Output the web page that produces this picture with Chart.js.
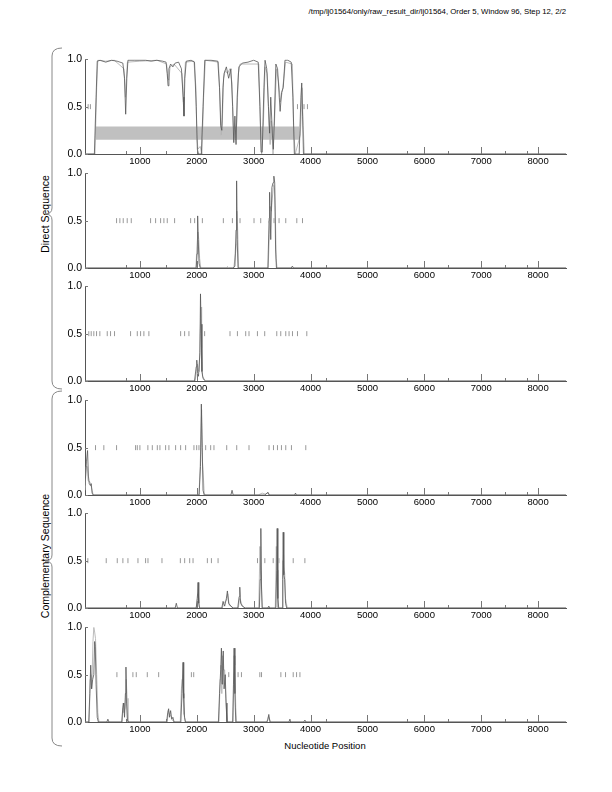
<!DOCTYPE html>
<html>
<head>
<meta charset="utf-8">
<script src="https://cdn.jsdelivr.net/npm/chart.js@4.4.1/dist/chart.umd.min.js"></script>
<style>
  body { margin: 0; background: #fff; width: 612px; height: 792px; position: relative; overflow: hidden;
         font-family: "Liberation Sans", Arial, sans-serif; color: #000; }
  canvas { position: absolute; left: 0; }
  .txt { position: absolute; white-space: nowrap; font-size: 9px; }
  .ylab { position: absolute; white-space: nowrap; font-size: 10.5px; transform: translate(-50%, -50%) rotate(-90deg); }
  svg { position: absolute; left: 0; top: 0; }
</style>
</head>
<body>
<div class="txt" id="title" style="right:46px; top:7px; font-size:7.8px;">/tmp/lj01564/only/raw_result_dir/lj01564, Order 5, Window 96, Step 12, 2/2</div>
<div class="ylab" style="left:45px; top:214px;">Direct Sequence</div>
<div class="ylab" style="left:45px; top:556px;">Complementary Sequence</div>
<div class="txt" style="left:325px; top:740px; transform:translateX(-50%); font-size:9.5px;">Nucleotide Position</div>
<svg width="612" height="792">
  <path d="M62 48 Q52 48 52 56 L52 208 Q52 214 45 214 Q52 214 52 220 L52 381 Q52 389 62 389" fill="none" stroke="#888" stroke-width="1"/>
  <path d="M62 391 Q52 391 52 399 L52 555 Q52 561 45 561 Q52 561 52 567 L52 738 Q52 746 62 746" fill="none" stroke="#888" stroke-width="1"/>
</svg>

<script>
// x range and tick positions (nucleotide)
const xMin = 35, xMax = 8490;
const xMajor = [1000, 2000, 3000, 4000, 5000, 6000, 7000, 8000];
const xMinor = [750, 1460, 4280, 5690, 6410, 7420, 7810];
const yTicks = [0, 0.5, 1];

// grey bar in first panel
const bandStart = 220, bandEnd = 3800, bandLow = 0.15, bandHigh = 0.29;

// panel 1 (direct, frame 1)
const p1Dark = [[35,0],[200,0],[230,0.6],[250,0.98],[300,0.99],[400,0.97],[500,0.99],[600,0.98],[700,0.96],[730,0.8],[750,0.42],[770,0.8],[790,0.99],[900,0.99],[1000,0.99],[1100,0.99],[1200,0.98],[1300,0.99],[1400,0.98],[1460,0.97],[1480,0.85],[1495,0.72],[1510,0.9],[1540,0.95],[1580,0.92],[1620,0.96],[1680,0.97],[1730,0.9],[1760,0.6],[1775,0.4],[1790,0.8],[1815,0.98],[1900,0.99],[1960,0.97],[1990,0.5],[2010,0.05],[2030,0],[2080,0],[2110,0.5],[2140,0.99],[2250,0.99],[2370,0.98],[2400,0.7],[2420,0.3],[2440,0.25],[2460,0.7],[2480,0.85],[2520,0.92],[2560,0.8],[2600,0.9],[2630,0.5],[2650,0.12],[2670,0.4],[2690,0.1],[2710,0.6],[2740,0.92],[2800,0.96],[2900,0.97],[3000,0.99],[3080,0.97],[3110,0.5],[3130,0.02],[3150,0.02],[3180,0.7],[3200,0.99],[3230,0.9],[3260,0.5],[3280,0.22],[3300,0.6],[3330,0.2],[3345,0.05],[3360,0.3],[3390,0.95],[3420,0.9],[3450,0.6],[3465,0.45],[3490,0.65],[3520,0.7],[3550,0.99],[3600,0.99],[3660,0.97],[3690,0.6],[3715,0],[3800,0],[3830,0.6],[3845,0.75],[3860,0.4],[3875,0],[8490,0]];
const p1Grey = [[35,0],[210,0],[240,0.7],[260,0.99],[400,0.98],[550,0.99],[720,0.9],[745,0.6],[760,0.75],[780,0.97],[1000,0.98],[1300,0.99],[1470,0.95],[1490,0.8],[1510,0.78],[1530,0.92],[1600,0.95],[1740,0.85],[1765,0.55],[1780,0.75],[1800,0.97],[1950,0.98],[1985,0.7],[2000,0.2],[2020,0.05],[2060,0.08],[2090,0],[2120,0.6],[2150,0.99],[2380,0.97],[2410,0.55],[2430,0.2],[2450,0.35],[2470,0.8],[2500,0.88],[2540,0.85],[2580,0.9],[2620,0.75],[2640,0.3],[2660,0.2],[2680,0.15],[2700,0.3],[2730,0.85],[2760,0.95],[3090,0.95],[3120,0.3],[3140,0],[3170,0.3],[3200,0.92],[3240,0.85],[3270,0.3],[3290,0.1],[3310,0.35],[3340,0],[3370,0.4],[3400,0.9],[3440,0.75],[3470,0.55],[3500,0.65],[3530,0.8],[3560,0.97],[3680,0.95],[3700,0.3],[3730,0],[3820,0.2],[3850,0.7],[3870,0.3],[3890,0],[8490,0]];
const p1Marks = [90, 130, 3770, 3885, 3945];

// panel 2 (direct, frame 2)
const p2Dark = [[35,0],[1990,0],[2005,0.15],[2015,0.55],[2025,0.3],[2040,0.05],[2060,0],[2520,0],[2537,0.01],[2555,0],[2640,0],[2670,0.02],[2690,0.4],[2700,0.92],[2710,0.3],[2725,0],[3250,0],[3270,0.5],[3280,0.8],[3300,0.3],[3320,0.85],[3340,0.9],[3355,0.97],[3370,0.9],[3385,0.2],[3400,0],[3660,0],[3680,0.02],[3700,0],[8490,0]];
const p2Grey = [[35,0],[1985,0],[2000,0.2],[2020,0.38],[2035,0.3],[2050,0.1],[2070,0],[2650,0],[2680,0.15],[2695,0.25],[2705,0.6],[2720,0.38],[2735,0],[3255,0],[3275,0.35],[3290,0.65],[3310,0.6],[3330,0.75],[3350,0.88],[3365,0.85],[3380,0.6],[3395,0.1],[3410,0],[8490,0]];
const p2Marks = [590, 648, 707, 777, 848, 1188, 1276, 1364, 1422, 1481, 1610, 1892, 1962, 2098, 2467, 2626, 2760, 3006, 3124, 3270, 3358, 3446, 3564, 3758, 3858];

// panel 3 (direct, frame 3)
const p3Dark = [[35,0],[1960,0],[1990,0.15],[2000,0.22],[2015,0.08],[2030,0.05],[2055,0.3],[2065,0.92],[2075,0.6],[2090,0.1],[2110,0.03],[2130,0.01],[2150,0],[8490,0]];
const p3Grey = [[35,0],[1970,0],[1995,0.1],[2010,0.18],[2025,0.12],[2045,0.1],[2060,0.5],[2075,0.78],[2085,0.35],[2100,0.05],[2130,0.02],[2160,0],[8490,0]];
const p3Marks = [102, 144, 190, 238, 296, 426, 484, 554, 836, 954, 1012, 1070, 1158, 1716, 1786, 1862, 2138, 2584, 2714, 2860, 2918, 3066, 3194, 3406, 3476, 3564, 3622, 3682, 3770, 3934];

// panel 4 (complementary, frame 1)
const p4Dark = [[35,0.1],[60,0.35],[80,0.47],[95,0.2],[110,0.12],[130,0.1],[145,0.12],[160,0.02],[180,0],[2040,0],[2065,0.3],[2080,0.96],[2095,0.5],[2110,0.05],[2130,0],[2600,0],[2620,0.05],[2640,0],[3200,0],[3250,0.03],[3270,0],[3720,0],[3735,0.02],[3750,0],[8490,0]];
const p4Grey = [[35,0.05],[55,0.3],[75,0.3],[90,0.15],[120,0.14],[140,0.1],[160,0.05],[180,0],[2040,0],[2070,0.5],[2085,0.9],[2100,0.35],[2115,0.2],[2130,0.02],[2150,0],[3080,0],[3150,0.02],[3200,0.01],[3260,0.02],[3280,0],[8490,0]];
const p4Marks = [220, 366, 590, 924, 954, 1000, 1140, 1218, 1306, 1352, 1452, 1510, 1628, 1716, 1804, 1950, 1998, 2038, 2156, 2244, 2302, 2526, 2702, 2918, 3270, 3348, 3418, 3488, 3564, 3664, 3916];

// panel 5 (complementary, frame 2)
const p5Dark = [[35,0],[1620,0],[1640,0.05],[1660,0],[1990,0],[2010,0.1],[2022,0.27],[2035,0.05],[2050,0],[2440,0],[2462,0.07],[2490,0.02],[2520,0.1],[2538,0.18],[2560,0.05],[2600,0.02],[2640,0],[2720,0],[2745,0.12],[2756,0.22],[2770,0.05],[2800,0.02],[2850,0],[3100,0],[3115,0.3],[3126,0.84],[3138,0.2],[3150,0],[3250,0],[3266,0.02],[3280,0],[3390,0],[3405,0.4],[3413,0.84],[3425,0.1],[3440,0],[3500,0],[3510,0.3],[3519,0.8],[3530,0.35],[3545,0.3],[3560,0.05],[3580,0],[8490,0]];
const p5Grey = [[35,0],[1990,0],[2015,0.15],[2030,0.12],[2045,0],[2450,0],[2470,0.05],[2520,0.08],[2545,0.15],[2570,0.03],[2640,0],[2730,0],[2750,0.1],[2770,0.08],[2800,0.02],[2850,0],[3090,0],[3110,0.65],[3122,0.4],[3135,0.3],[3150,0],[3380,0],[3398,0.65],[3410,0.4],[3425,0],[3500,0],[3515,0.5],[3530,0.4],[3545,0.37],[3560,0.1],[3590,0],[8490,0]];
const p5Marks = [85, 408, 602, 701, 790, 966, 1100, 1142, 1388, 1711, 1787, 1875, 1934, 2186, 2257, 2374, 3067, 3196, 3343, 3443, 3695, 3900];

// panel 6 (complementary, frame 3)
const p6Dark = [[35,0],[100,0],[120,0.3],[135,0.6],[150,0.35],[170,0.45],[190,0.5],[205,0.85],[215,0.8],[230,0.4],[250,0.05],[270,0],[420,0],[437,0.03],[455,0],[680,0],[700,0.15],[715,0.2],[730,0.05],[745,0.3],[755,0.58],[765,0.2],[780,0.02],[800,0],[1470,0],[1490,0.1],[1505,0.14],[1520,0.05],[1540,0.12],[1560,0.03],[1580,0.05],[1600,0],[1720,0],[1740,0.3],[1758,0.63],[1770,0.25],[1785,0.05],[1800,0],[2380,0],[2400,0.3],[2420,0.55],[2433,0.78],[2445,0.4],[2455,0.6],[2465,0.75],[2480,0.35],[2500,0.5],[2515,0.2],[2530,0],[2630,0],[2645,0.4],[2656,0.78],[2670,0.3],[2685,0],[3230,0],[3250,0.03],[3266,0.08],[3285,0],[3620,0],[3637,0.03],[3650,0],[3880,0],[3900,0.02],[3920,0],[8490,0]];
const p6Grey = [[35,0],[110,0],[125,0.45],[140,0.5],[155,0.35],[175,0.85],[190,1.0],[205,0.95],[220,0.88],[240,0.5],[260,0.1],[280,0],[690,0],[705,0.2],[720,0.1],[740,0.15],[760,0.45],[775,0.25],[790,0],[1480,0],[1500,0.12],[1520,0.08],[1545,0.06],[1570,0.02],[1600,0],[1710,0],[1730,0.35],[1745,0.45],[1760,0.3],[1775,0.08],[1800,0],[2390,0],[2410,0.45],[2425,0.6],[2440,0.3],[2455,0.7],[2470,0.55],[2490,0.55],[2510,0.25],[2525,0.1],[2540,0],[2640,0],[2655,0.7],[2670,0.6],[2685,0.15],[2700,0],[3240,0],[3260,0.06],[3280,0.03],[3300,0],[8490,0]];
const p6Marks = [596, 877, 936, 1130, 1330, 1905, 1946, 2562, 2726, 2785, 3108, 3138, 3478, 3560, 3695, 3754, 3813];

const panels = [
  { top: 55,  dark: p1Dark, grey: p1Grey, marks: p1Marks, band: true },
  { top: 169, dark: p2Dark, grey: p2Grey, marks: p2Marks },
  { top: 282, dark: p3Dark, grey: p3Grey, marks: p3Marks },
  { top: 396, dark: p4Dark, grey: p4Grey, marks: p4Marks },
  { top: 509, dark: p5Dark, grey: p5Grey, marks: p5Marks },
  { top: 623, dark: p6Dark, grey: p6Grey, marks: p6Marks }
];

// short tick marks drawn inside the plot, like the original postscript
const innerTicks = {
  id: 'innerTicks',
  afterDatasetsDraw(chart) {
    const { ctx, scales: { x, y } } = chart;
    ctx.save();
    ctx.strokeStyle = '#777';
    ctx.lineWidth = 1;
    ctx.beginPath();
    xMajor.forEach(v => {
      const px = Math.round(x.getPixelForValue(v)) + 0.5;
      ctx.moveTo(px, y.bottom); ctx.lineTo(px, y.bottom - 7);
    });
    xMinor.forEach(v => {
      const px = Math.round(x.getPixelForValue(v)) + 0.5;
      ctx.moveTo(px, y.bottom); ctx.lineTo(px, y.bottom - 3);
    });
    yTicks.forEach(v => {
      const py = Math.round(y.getPixelForValue(v)) + 0.5;
      ctx.moveTo(x.left, py); ctx.lineTo(x.left + 3, py);
    });
    ctx.stroke();
    ctx.restore();
  }
};

const xFont = { family: '"Liberation Sans", Arial, sans-serif', size: 9.5 };
const yFont = { family: '"Liberation Sans", Arial, sans-serif', size: 10.5 };

panels.forEach(p => {
  const cv = document.createElement('canvas');
  cv.width = 612; cv.height = 122;
  cv.style.top = (p.top - 5) + 'px';
  document.body.appendChild(cv);

  const datasets = [
    { data: p.marks.map(v => ({ x: v, y: 0.5 })), showLine: false, pointStyle: 'line', rotation: 90,
      pointRadius: 2.5, borderColor: '#999', borderWidth: 1, order: 0 },
    { data: p.dark, borderColor: '#555555', borderWidth: 0.8, pointRadius: 0, order: 1 },
    { data: p.grey, borderColor: '#b4b4b4', borderWidth: 0.9, pointRadius: 0, order: 2 }
  ];
  if (p.band) {
    datasets.push({ data: [[bandStart, bandHigh], [bandEnd, bandHigh]], borderWidth: 0, pointRadius: 0,
      backgroundColor: '#c0c0c0', fill: { value: bandLow }, order: 3 });
  }

  new Chart(cv.getContext('2d'), {
    type: 'line',
    data: { datasets: datasets },
    options: {
      responsive: false,
      animation: false,
      events: [],
      layout: { autoPadding: false, padding: { left: 0, right: 46, top: 5, bottom: 0 } },
      plugins: { legend: { display: false }, tooltip: { enabled: false } },
      scales: {
        x: {
          type: 'linear', min: xMin, max: xMax,
          afterBuildTicks: s => { s.ticks = xMajor.map(v => ({ value: v })); },
          afterFit: s => { s.height = 18; },
          grid: { display: false, drawTicks: false },
          border: { color: '#555' },
          ticks: { color: '#000', font: xFont, padding: 2, maxRotation: 0, callback: v => String(v) }
        },
        y: {
          min: 0, max: 1,
          afterBuildTicks: s => { s.ticks = yTicks.map(v => ({ value: v })); },
          afterFit: s => { s.width = 85; },
          grid: { display: false, drawTicks: false },
          border: { color: '#555' },
          ticks: { color: '#000', font: yFont, padding: 3, callback: v => v.toFixed(1) }
        }
      }
    },
    plugins: [innerTicks]
  });
});
</script>
</body>
</html>
